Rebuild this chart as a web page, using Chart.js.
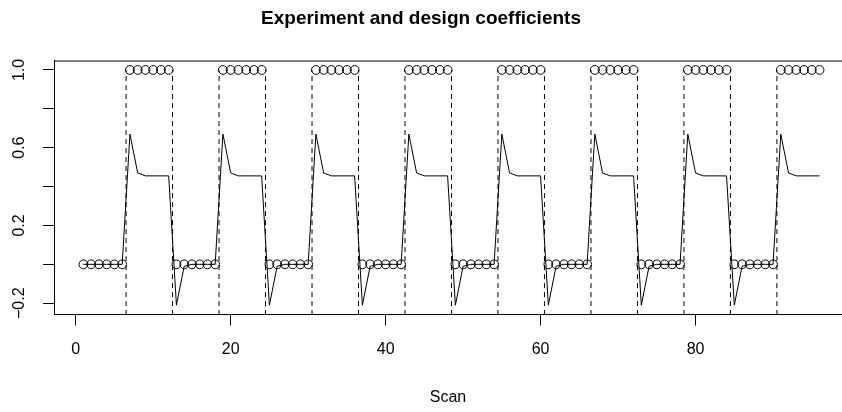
<!DOCTYPE html>
<html lang="en">
<head>
  <meta charset="UTF-8" />
  <title>Experiment and design coefficients</title>
  <script src="https://cdn.jsdelivr.net/npm/chart.js"></script>
  <style>
    html, body {
      margin: 0;
      padding: 0;
      background: #ffffff;
      overflow: hidden;
    }
    .wrap {
      width: 842px;
      height: 412px;
    }
  </style>
</head>
<body>
  <div class="wrap">
    <canvas id="chart" width="842" height="412"></canvas>
  </div>

  <script>
    // scan numbers
    const scans = [
      1, 2, 3, 4, 5, 6, 7, 8, 9, 10, 11, 12,
      13, 14, 15, 16, 17, 18, 19, 20, 21, 22, 23, 24,
      25, 26, 27, 28, 29, 30, 31, 32, 33, 34, 35, 36,
      37, 38, 39, 40, 41, 42, 43, 44, 45, 46, 47, 48,
      49, 50, 51, 52, 53, 54, 55, 56, 57, 58, 59, 60,
      61, 62, 63, 64, 65, 66, 67, 68, 69, 70, 71, 72,
      73, 74, 75, 76, 77, 78, 79, 80, 81, 82, 83, 84,
      85, 86, 87, 88, 89, 90, 91, 92, 93, 94, 95, 96
    ];

    // on/off design (circles)
    const design = [
      0, 0, 0, 0, 0, 0, 1, 1, 1, 1, 1, 1,
      0, 0, 0, 0, 0, 0, 1, 1, 1, 1, 1, 1,
      0, 0, 0, 0, 0, 0, 1, 1, 1, 1, 1, 1,
      0, 0, 0, 0, 0, 0, 1, 1, 1, 1, 1, 1,
      0, 0, 0, 0, 0, 0, 1, 1, 1, 1, 1, 1,
      0, 0, 0, 0, 0, 0, 1, 1, 1, 1, 1, 1,
      0, 0, 0, 0, 0, 0, 1, 1, 1, 1, 1, 1,
      0, 0, 0, 0, 0, 0, 1, 1, 1, 1, 1, 1
    ];

    // experiment coefficients (solid line)
    const response = [
      0, 0, 0, 0, 0, 0, 0.67, 0.47, 0.455, 0.455, 0.455, 0.455,
      -0.21, -0.01, 0, 0, 0, 0, 0.67, 0.47, 0.455, 0.455, 0.455, 0.455,
      -0.21, -0.01, 0, 0, 0, 0, 0.67, 0.47, 0.455, 0.455, 0.455, 0.455,
      -0.21, -0.01, 0, 0, 0, 0, 0.67, 0.47, 0.455, 0.455, 0.455, 0.455,
      -0.21, -0.01, 0, 0, 0, 0, 0.67, 0.47, 0.455, 0.455, 0.455, 0.455,
      -0.21, -0.01, 0, 0, 0, 0, 0.67, 0.47, 0.455, 0.455, 0.455, 0.455,
      -0.21, -0.01, 0, 0, 0, 0, 0.67, 0.47, 0.455, 0.455, 0.455, 0.455,
      -0.21, -0.01, 0, 0, 0, 0, 0.67, 0.47, 0.455, 0.455, 0.455, 0.455
    ];

    // block boundaries (dashed verticals)
    const blockEdges = [6.5, 12.5, 18.5, 24.5, 30.5, 36.5, 42.5, 48.5, 54.5, 60.5, 66.5, 72.5, 78.5, 84.5, 90.5];

    const xTicks = [0, 20, 40, 60, 80];
    const yTicks = [-0.2, 0, 0.2, 0.4, 0.6, 0.8, 1.0];
    const yLabelled = [-0.2, 0.2, 0.6, 1.0];
    const yLabelText = ['\u22120.2', '0.2', '0.6', '1.0'];

    const FONT = '"Liberation Sans", Arial, Helvetica, sans-serif';

    const edgeSets = blockEdges.map(b => ({
      type: 'line',
      data: [{ x: b, y: -0.4 }, { x: b, y: 1.0 }],
      borderColor: '#000',
      borderWidth: 1,
      borderDash: [5, 4],
      pointRadius: 0,
      fill: false
    }));

    // top frame line and rotated y labels, R style
    const rFrame = {
      id: 'rFrame',
      afterDraw(chart) {
        const { ctx, chartArea, scales } = chart;
        ctx.save();
        ctx.strokeStyle = '#000';
        ctx.lineWidth = 1;
        ctx.beginPath();
        ctx.moveTo(chartArea.left, chartArea.top + 0.5);
        ctx.lineTo(chartArea.right, chartArea.top + 0.5);
        ctx.stroke();

        ctx.fillStyle = '#000';
        ctx.font = '16px ' + FONT;
        ctx.textAlign = 'center';
        ctx.textBaseline = 'middle';
        yLabelled.forEach((v, i) => {
          const py = scales.y.getPixelForValue(v);
          ctx.save();
          ctx.translate(20, py);
          ctx.rotate(-Math.PI / 2);
          ctx.fillText(yLabelText[i], 0, 0);
          ctx.restore();
        });
        ctx.restore();
      }
    };

    const ctx = document.getElementById('chart').getContext('2d');
    new Chart(ctx, {
      type: 'scatter',
      data: {
        datasets: [
          {
            type: 'line',
            data: scans.map((s, i) => ({ x: s, y: response[i] })),
            borderColor: '#000',
            borderWidth: 1,
            pointRadius: 0,
            tension: 0,
            fill: false
          },
          {
            type: 'scatter',
            data: scans.map((s, i) => ({ x: s, y: design[i] })),
            pointStyle: 'circle',
            pointRadius: 4.4,
            pointBorderWidth: 1,
            pointBorderColor: '#000',
            pointBackgroundColor: 'rgba(0,0,0,0)',
            showLine: false
          },
          ...edgeSets
        ]
      },
      options: {
        responsive: false,
        animation: false,
        events: [],
        layout: { padding: 0, autoPadding: false },
        plugins: {
          legend: { display: false },
          tooltip: { enabled: false },
          title: {
            display: true,
            text: 'Experiment and design coefficients',
            color: '#000',
            font: { family: FONT, size: 19, weight: 'bold' },
            padding: { top: 7, bottom: 30.8 }
          }
        },
        scales: {
          x: {
            type: 'linear',
            min: -2.8,
            max: 98.9,
            afterBuildTicks(scale) {
              scale.ticks = xTicks.map(v => ({ value: v }));
            },
            afterFit(scale) {
              scale.height = 97.5;
              scale.paddingLeft = 0;
              scale.paddingRight = 0;
            },
            grid: {
              drawOnChartArea: false,
              drawTicks: true,
              tickLength: 11,
              color: '#000',
              lineWidth: 1
            },
            border: { display: true, color: '#000', width: 1 },
            ticks: {
              color: '#000',
              font: { family: FONT, size: 16 },
              padding: 14,
              maxRotation: 0
            },
            title: {
              display: true,
              text: 'Scan',
              color: '#000',
              font: { family: FONT, size: 16 },
              padding: { top: 0, bottom: 5 }
            }
          },
          y: {
            type: 'linear',
            min: -0.258,
            max: 1.048,
            afterBuildTicks(scale) {
              scale.ticks = yTicks.map(v => ({ value: v }));
            },
            afterFit(scale) {
              scale.width = 54;
              scale.paddingTop = 0;
              scale.paddingBottom = 0;
            },
            grid: {
              drawOnChartArea: false,
              drawTicks: true,
              tickLength: 11,
              color: '#000',
              lineWidth: 1
            },
            border: { display: true, color: '#000', width: 1 },
            ticks: { display: false }
          }
        }
      },
      plugins: [rFrame]
    });
  </script>
</body>
</html>
